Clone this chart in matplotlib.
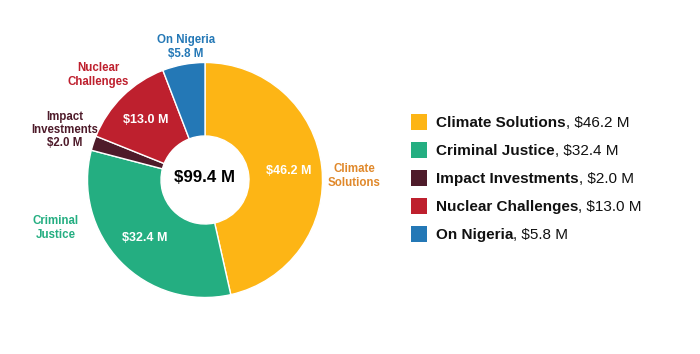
import numpy as np
import matplotlib
matplotlib.use("Agg")
from matplotlib import pyplot as plt
from matplotlib.patches import Rectangle

plt.rcParams['font.family'] = ['Liberation Sans', 'DejaVu Sans']
plt.rcParams['text.parse_math'] = False

# data
categories = ["Climate Solutions", "Criminal Justice", "Impact Investments",
              "Nuclear Challenges", "On Nigeria"]
outer_labels = ["Climate\nSolutions", "Criminal\nJustice", "Impact\nInvestments\n$2.0 M",
                "Nuclear\nChallenges", "On Nigeria\n$5.8 M"]
values = [46.2, 32.4, 2.0, 13.0, 5.8]
total_label = "$99.4 M"

colors = ["#FDB515", "#24AE81", "#4E1B2A", "#BE202E", "#2478B6"]
label_colors = ["#E0882A", "#24AE81", "#4E1B2A", "#BE202E", "#2478B6"]

W, H = 700, 354
fig = plt.figure(figsize=(W / 100, H / 100), dpi=100)
ax = fig.add_axes([0, 0, 1, 1])
ax.set_xlim(0, W)
ax.set_ylim(H, 0)
ax.axis('off')

cx, cy = 205, 180
r_out, r_in = 117.5, 44

# pie drawn in a separate axes with normal y direction
pax = fig.add_axes([0, 0, 1, 1])
wedges, _ = pax.pie(values, colors=colors, startangle=90, counterclock=False,
                    center=(cx, H - cy), radius=r_out, frame=True,
                    wedgeprops=dict(width=r_out - r_in, edgecolor='white', linewidth=1))
pax.set_xlim(0, W)
pax.set_ylim(0, H)
pax.set_aspect('equal')
pax.axis('off')

# inner value labels
tot = sum(values)
start = 90.0
r_mid = 84
for i, v in enumerate(values):
    span = v / tot * 360
    mid = np.deg2rad(start - span / 2)
    start -= span
    if v > 10:
        pax.text(cx + r_mid * np.cos(mid), H - cy + r_mid * np.sin(mid),
                 "$%.1f M" % v, ha='center', va='center', color='white',
                 fontsize=9, fontweight='bold')

pax.text(cx, H - cy + 3, total_label, ha='center', va='center', color='black',
         fontsize=12.2, fontweight='bold')

# outer labels (layout positions in pixels)
outer_pos = [(354, 176), (56, 228), (65, 130), (98, 75), (186, 47)]
for lab, (x, y), c in zip(outer_labels, outer_pos, label_colors):
    ax.text(x, y, lab, ha='center', va='center', color=c, fontsize=8.3,
            fontweight='bold', linespacing=1.15)

# legend
for i, (cat, v, c) in enumerate(zip(categories, values, colors)):
    y = 122 + i * 28
    ax.add_patch(Rectangle((411, y - 8), 16, 16, facecolor=c, edgecolor='none'))
    t = ax.text(436, y + 1, cat, ha='left', va='center', fontsize=11,
                fontweight='bold', color='#111111')
    ax.annotate(", $%.1f M" % v, xy=(1, 0), xycoords=t, ha='left', va='bottom',
                fontsize=11, color='#111111')

fig.savefig("out.png", dpi=100)
